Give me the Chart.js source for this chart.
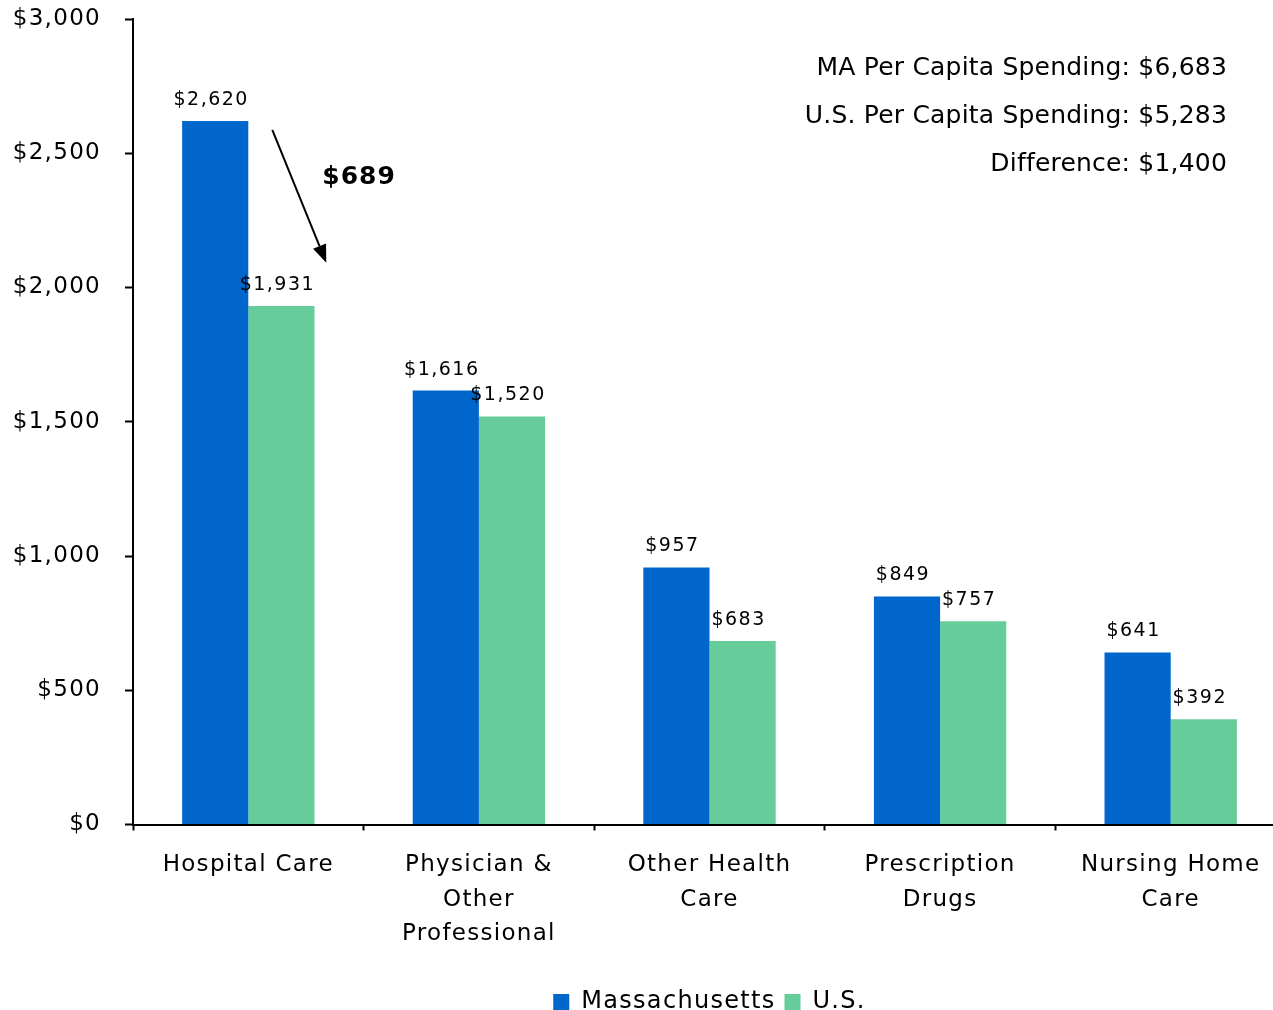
<!DOCTYPE html>
<html><head><meta charset="utf-8">
<script src="https://cdn.jsdelivr.net/npm/chart.js@4/dist/chart.umd.min.js"></script>
<style>html,body{margin:0;padding:0;background:#fff}#wrap{width:1273px;height:1010px;position:relative;overflow:hidden}#c{position:absolute;left:0;top:0}</style>
</head><body><div id="wrap"><canvas id="c" width="1286" height="1024"></canvas></div>
<script>
const categories = [["Hospital Care"], ["Physician &", "Other", "Professional"], ["Other Health", "Care"], ["Prescription", "Drugs"], ["Nursing Home", "Care"]];
const maValues = [2620, 1616, 957, 849, 641];
const usValues = [1931, 1520, 683, 757, 392];
const seriesNames = ["Massachusetts", "U.S."];
const yTicks = [0, 500, 1000, 1500, 2000, 2500, 3000];
const infoLines = ["MA Per Capita Spending: $6,683", "U.S. Per Capita Spending: $5,283", "Difference: $1,400"];

const FONT = "'DejaVu Sans', Verdana, sans-serif";
const fmt = v => "$" + v.toLocaleString("en-US");
const LS = "1.3px";

const spacingPlugin = {
  id: "spacing",
  beforeInit(c){ c.ctx.letterSpacing = LS; },
  beforeLayout(c){ c.ctx.letterSpacing = LS; },
  beforeDraw(c){ c.ctx.letterSpacing = LS; }
};

const labelPlugin = {
  id: "labels",
  afterDatasetsDraw(c){
    const ctx = c.ctx;
    ctx.save();
    ctx.letterSpacing = "1.5px";
    ctx.font = "19px " + FONT;
    ctx.fillStyle = "#000";
    ctx.textAlign = "center";
    ctx.textBaseline = "middle";
    c.data.datasets.forEach((ds, i) => {
      c.getDatasetMeta(i).data.forEach((bar, j) => {
        ctx.fillText(fmt(ds.data[j]), bar.x - 4, bar.y - 21);
      });
    });
    // difference arrow on Hospital Care
    const xs = c.scales.x, ys = c.scales.y;
    const cx = xs.getPixelForValue(0);
    const x1 = cx + 24, y1 = ys.getPixelForValue(2587);
    const x2 = cx + 78, y2 = ys.getPixelForValue(2092);
    ctx.strokeStyle = "#000"; ctx.lineWidth = 2;
    const ang = Math.atan2(y2 - y1, x2 - x1);
    const hl = 18, hw = 7;
    const bx = x2 - hl * Math.cos(ang), by = y2 - hl * Math.sin(ang);
    ctx.beginPath(); ctx.moveTo(x1, y1); ctx.lineTo(bx, by); ctx.stroke();
    ctx.beginPath();
    ctx.moveTo(x2, y2);
    ctx.lineTo(bx + hw * Math.sin(ang), by - hw * Math.cos(ang));
    ctx.lineTo(bx - hw * Math.sin(ang), by + hw * Math.cos(ang));
    ctx.closePath(); ctx.fillStyle = "#000"; ctx.fill();
    ctx.letterSpacing = "1px";
    ctx.font = "bold 25px " + FONT;
    ctx.textAlign = "left";
    ctx.fillText(fmt(maValues[0] - usValues[0]), cx + 74, ys.getPixelForValue(2408));
    // per capita summary
    ctx.letterSpacing = "0.2px";
    ctx.font = "25px " + FONT;
    ctx.textAlign = "right";
    infoLines.forEach((t, k) => ctx.fillText(t, 1227, c.chartArea.top + 49 + k * 48));
    ctx.restore();
  }
};

new Chart(document.getElementById("c"), {
  type: "bar",
  data: {
    labels: categories,
    datasets: [
      { label: seriesNames[0], data: maValues, backgroundColor: "#0066CC", categoryPercentage: 0.574, barPercentage: 1 },
      { label: seriesNames[1], data: usValues, backgroundColor: "#66CC99", categoryPercentage: 0.574, barPercentage: 1 }
    ]
  },
  options: {
    responsive: false,
    animation: false,
    events: [],
    layout: { padding: 0 },
    plugins: {
      legend: {
        position: "bottom",
        fullSize: false,
        labels: { font: { family: FONT, size: 24 }, color: "#000", boxWidth: 16, boxHeight: 16, padding: 9 }
      },
      tooltip: { enabled: false }
    },
    scales: {
      x: {
        afterFit: s => { s.height = 156.5; s.paddingLeft = 0; s.paddingRight = 0; },
        grid: { display: true, drawOnChartArea: false, offset: true, color: "#000", tickLength: 6, tickWidth: 2 },
        border: { display: true, color: "#000", width: 2 },
        ticks: { font: { family: FONT, size: 23, lineHeight: 1.48 }, color: "#000", padding: 18, maxRotation: 0, autoSkip: false }
      },
      y: {
        min: 0, max: 3000,
        afterBuildTicks: s => { s.ticks = yTicks.map(v => ({ value: v })); },
        afterFit: s => { s.width = 133; s.paddingTop = 19; s.paddingBottom = 0; },
        grid: { display: true, drawOnChartArea: false, color: "#000", tickLength: 8, tickWidth: 2 },
        border: { display: true, color: "#000", width: 2 },
        ticks: { font: { family: FONT, size: 23 }, color: "#000", padding: 24, callback: v => fmt(v) }
      }
    }
  },
  plugins: [spacingPlugin, labelPlugin]
});
</script></body></html>
